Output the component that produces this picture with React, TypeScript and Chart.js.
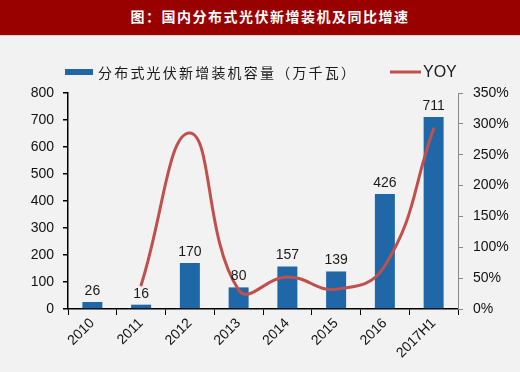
import React, { useEffect, useRef } from 'react';
import { Chart, registerables } from 'chart.js';

Chart.register(...registerables);

const titleText = '图：国内分布式光伏新增装机及同比增速';
const categories = ['2010', '2011', '2012', '2013', '2014', '2015', '2016', '2017H1'];
const capacity = [26, 16, 170, 80, 157, 139, 426, 711];
const yoy: (number | null)[] = [null, 39, 285, 31, 52, 32, 70, 292];
const barLabel = '分布式光伏新增装机容量（万千瓦）';
const lineLabel = 'YOY';
const leftMax = 800;
const leftStep = 100;
const rightMax = 350;
const rightStep = 50;

const BAR_COLOR = '#1f67a6';
const LINE_COLOR = '#c0504d';
const BG = '#f2f2f2';
const NUM_FONT = '"Liberation Sans", Arial, sans-serif';
const CJK_FONT = '"Noto Sans CJK SC", "Liberation Sans", sans-serif';

const bgPlugin = {
  id: 'bg',
  beforeDraw(chart: any) {
    const { ctx, width, height } = chart;
    ctx.save();
    ctx.fillStyle = BG;
    ctx.fillRect(0, 0, width, height);
    ctx.restore();
  },
};

const valueLabels = {
  id: 'valueLabels',
  afterDatasetsDraw(chart: any) {
    const { ctx } = chart;
    const meta = chart.getDatasetMeta(0);
    ctx.save();
    ctx.font = `14px ${NUM_FONT}`;
    ctx.fillStyle = '#1a1a1a';
    ctx.textAlign = 'center';
    ctx.textBaseline = 'bottom';
    meta.data.forEach((bar: any, i: number) => {
      ctx.fillText(String(capacity[i]), bar.x, bar.y - 4);
    });
    ctx.restore();
  },
};

const customLegend = {
  id: 'customLegend',
  afterDraw(chart: any) {
    const { ctx } = chart;
    ctx.save();
    const y = 72;
    ctx.fillStyle = BAR_COLOR;
    ctx.fillRect(65, y - 3, 28, 6);
    ctx.font = `14px ${CJK_FONT}`;
    (ctx as any).letterSpacing = '2.2px';
    ctx.fillStyle = '#1a1a1a';
    ctx.textBaseline = 'middle';
    ctx.textAlign = 'left';
    ctx.fillText(barLabel, 98, y + 1);
    (ctx as any).letterSpacing = '0px';
    ctx.strokeStyle = LINE_COLOR;
    ctx.lineWidth = 3;
    ctx.beginPath();
    ctx.moveTo(390, y);
    ctx.lineTo(421, y);
    ctx.stroke();
    ctx.font = `16px ${NUM_FONT}`;
    ctx.fillText(lineLabel, 423, y + 1);
    ctx.restore();
  },
};

export default function App() {
  const ref = useRef<HTMLCanvasElement | null>(null);

  useEffect(() => {
    if (!ref.current) return;
    const chart = new Chart(ref.current, {
      type: 'bar',
      data: {
        labels: categories,
        datasets: [
          {
            type: 'bar',
            label: barLabel,
            data: capacity,
            backgroundColor: BAR_COLOR,
            yAxisID: 'y',
            barPercentage: 0.82,
            categoryPercentage: 0.5,
            order: 2,
          },
          {
            type: 'line',
            label: lineLabel,
            data: yoy,
            borderColor: LINE_COLOR,
            borderWidth: 3,
            pointRadius: 0,
            tension: 0.45,
            yAxisID: 'y1',
            borderCapStyle: 'round',
            order: 1,
          } as any,
        ],
      },
      options: {
        responsive: false,
        animation: false,
        layout: { padding: { top: 93, left: 0, right: 0, bottom: 0 } },
        plugins: {
          legend: { display: false },
          tooltip: { enabled: false },
          title: { display: false },
        },
        scales: {
          x: {
            grid: {
              display: true,
              drawOnChartArea: false,
              drawTicks: true,
              tickLength: 6,
              color: '#000',
              offset: true,
            },
            border: { color: '#000', width: 1.5 },
            ticks: {
              minRotation: 45,
              maxRotation: 45,
              color: '#111',
              font: { size: 14, family: NUM_FONT },
              padding: 0,
            },
            afterFit(scale: any) {
              scale.height = 63;
            },
          },
          y: {
            position: 'left',
            min: 0,
            max: leftMax,
            ticks: {
              stepSize: leftStep,
              color: '#111',
              font: { size: 14, family: NUM_FONT },
              padding: 9,
            },
            grid: { drawOnChartArea: false, tickLength: 5, color: '#000', lineWidth: 1.5 },
            border: { color: '#000', width: 1.5 },
            afterFit(scale: any) {
              scale.width = 68;
            },
          },
          y1: {
            position: 'right',
            min: 0,
            max: rightMax,
            ticks: {
              stepSize: rightStep,
              color: '#111',
              font: { size: 14, family: NUM_FONT },
              padding: 10,
              callback: (v: any) => `${v}%`,
            },
            grid: { drawOnChartArea: false, tickLength: 5, color: '#888' },
            border: { color: '#888', width: 1 },
            afterFit(scale: any) {
              scale.width = 62;
            },
          },
        },
      },
      plugins: [bgPlugin, valueLabels, customLegend],
    });
    return () => chart.destroy();
  }, []);

  return (
    <div style={{ position: 'fixed', left: 0, top: 0, width: 520, height: 372, background: BG }}>
      <canvas ref={ref} width={520} height={372} style={{ position: 'absolute', left: 0, top: 0 }} />
      <div
        style={{
          position: 'absolute',
          left: 0,
          top: 0,
          width: 520,
          height: 36,
          background: '#990000',
          borderBottom: '1px solid #e8c8c8',
          color: '#fff',
          fontFamily: CJK_FONT,
          fontWeight: 'bold',
          fontSize: 14,
          lineHeight: '33px',
          textAlign: 'center',
          letterSpacing: 1.5,
          paddingLeft: 20,
          boxSizing: 'border-box',
        }}
      >
        {titleText}
      </div>
    </div>
  );
}
